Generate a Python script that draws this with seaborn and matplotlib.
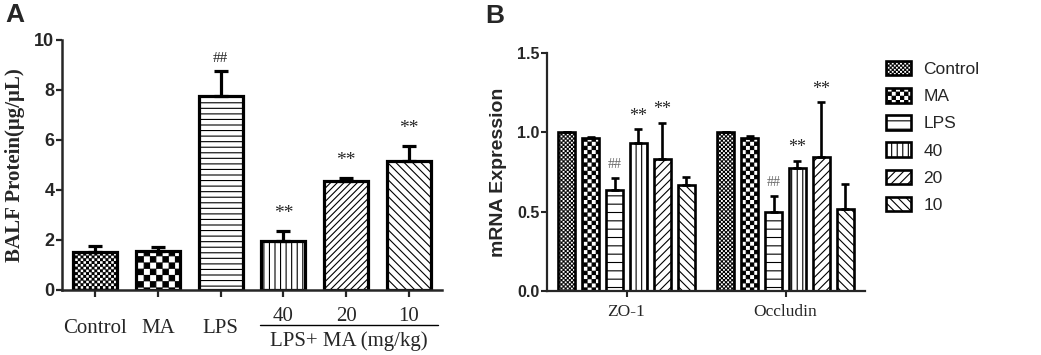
import warnings
import numpy as np
import pandas as pd
import matplotlib
matplotlib.use("Agg")
import matplotlib.pyplot as plt
import matplotlib.hatch as mhatch
from matplotlib.path import Path
from matplotlib.patches import Patch
from matplotlib.transforms import ScaledTranslation, blended_transform_factory
import seaborn as sns

warnings.filterwarnings("ignore")

# ---- data ----
groups = ["Control", "MA", "LPS", "40", "20", "10"]
protein = [1.52, 1.55, 7.78, 1.97, 4.38, 5.15]
protein_sem = [0.25, 0.17, 0.98, 0.40, 0.12, 0.61]
protein_sig = ["", "", "##", "**", "**", "**"]

genes = ["ZO-1", "Occludin"]
treatments = ["Control", "MA", "LPS", "40", "20", "10"]
zo1 = [1.00, 0.96, 0.636, 0.929, 0.829, 0.665]
zo1_sem = [0.0, 0.01, 0.073, 0.088, 0.23, 0.055]
occludin = [1.00, 0.965, 0.497, 0.776, 0.845, 0.514]
occludin_sem = [0.0, 0.01, 0.103, 0.044, 0.342, 0.159]
zo1_sig = ["", "", "##", "**", "**", ""]
occludin_sig = ["", "", "##", "**", "**", ""]


# checkerboard hatch ('c' repeated sets how fine it is)
class CheckerHatch(mhatch.HatchPatternBase):
    def __init__(self, hatch, density):
        self.n = hatch.count("c") * 4
        self.num_vertices = (self.n * self.n // 2) * 5

    def set_vertices_and_codes(self, vertices, codes):
        s = 1.0 / self.n
        d = 0.0045
        sq = []
        for i in range(self.n):
            for j in range(self.n):
                if (i + j) % 2 == 0:
                    x, y = i * s, j * s
                    sq.append([[x + d, y + d], [x + s - d, y + d], [x + s - d, y + s - d],
                               [x + d, y + s - d], [x + d, y + d]])
        vertices[:] = np.array(sq).reshape(-1, 2)
        codes[:] = np.tile([Path.MOVETO, Path.LINETO, Path.LINETO, Path.LINETO, Path.CLOSEPOLY], len(sq))


mhatch._hatch_types.append(CheckerHatch)

hatch_a = ["c" * 9, "cccc", "---", "|||", "/////", "\\\\\\\\"]
hatch_b = ["c" * 12, "c" * 6, "--", "|||", "////", "\\\\\\\\"]

sns.set_style("ticks")
plt.rcParams["font.family"] = ["Liberation Sans", "DejaVu Sans"]
plt.rcParams["hatch.linewidth"] = 0.8
plt.rcParams["hatch.color"] = "black"
SERIF = ["Liberation Serif", "DejaVu Serif"]

fig = plt.figure(figsize=(10.41, 3.55), dpi=100)
ax1 = fig.add_axes([62 / 1041, 1 - 290 / 355, 380 / 1041, 250 / 355])
ax2 = fig.add_axes([547 / 1041, 1 - 291 / 355, 318 / 1041, 238.3 / 355])

# ---- panel A ----
df_a = pd.DataFrame({"group": groups, "protein": protein})
sns.barplot(data=df_a, x="group", y="protein", order=groups, color="white",
            edgecolor="black", linewidth=2.3, width=0.7, errorbar=None, ax=ax1)
bars = sorted(ax1.patches, key=lambda p: p.get_x())
for b, h in zip(bars, hatch_a):
    b.set_hatch(h)
xs = [b.get_x() + b.get_width() / 2 for b in bars]
ax1.errorbar(xs, protein, yerr=[np.zeros(6), protein_sem], fmt="none", ecolor="black",
             elinewidth=2.3, capsize=5, capthick=2.3)
for x, v, e, s in zip(xs, protein, protein_sem, protein_sig):
    if s:
        ax1.text(x, v + e + (0.35 if s == "**" else 0.25), s, ha="center", va="bottom",
                 family=SERIF, size=14 if s == "**" else 11)

ax1.set_xlim(-0.53, 5.53)
ax1.set_ylim(0, 10)
ax1.set_yticks(range(0, 11, 2))
ax1.set_xticks(range(6))
ax1.set_xticklabels(groups, family=SERIF, size=15)
ax1.tick_params(axis="y", labelsize=13, width=1.6, length=4, pad=1.5)
ax1.tick_params(axis="x", width=1.6, length=5, pad=7)
for lbl in ax1.get_yticklabels():
    lbl.set_fontweight("bold")
for lbl in ax1.get_xticklabels()[:3]:
    lbl.set_transform(lbl.get_transform() + ScaledTranslation(0, -8.6 / 72, fig.dpi_scale_trans))
ax1.set_xlabel("")
ax1.set_ylabel("BALF Protein(μg/μL)", family=SERIF, weight="bold", size=15)
ax1.yaxis.set_label_coords(-0.097, 0.5)
sns.despine(ax=ax1)
for sp in ["left", "bottom"]:
    ax1.spines[sp].set_linewidth(1.8)

tr = blended_transform_factory(ax1.transData, ax1.transAxes)
ax1.plot([2.63, 5.46], [-0.14, -0.14], color="black", lw=1.0, transform=tr, clip_on=False)
ax1.text(4.05, -0.205, "LPS+ MA (mg/kg)", transform=tr, ha="center", va="center",
         family=SERIF, size=15)

# ---- panel B ----
df_b = pd.DataFrame({"gene": np.repeat(genes, 6), "treatment": treatments * 2,
                     "expr": zo1 + occludin})
sns.barplot(data=df_b, x="gene", y="expr", hue="treatment", order=genes,
            hue_order=treatments, palette=["white"] * 6, edgecolor="black",
            linewidth=1.9, width=0.9, gap=0.29, errorbar=None, legend=False, ax=ax2)
bars = sorted(ax2.patches, key=lambda p: p.get_x())
for b, h in zip(bars, hatch_b * 2):
    b.set_hatch(h)
xs = [b.get_x() + b.get_width() / 2 for b in bars]
vals = zo1 + occludin
errs = zo1_sem + occludin_sem
ax2.errorbar(xs, vals, yerr=[np.zeros(12), errs], fmt="none", ecolor="black",
             elinewidth=1.9, capsize=3, capthick=1.9)
for x, v, e, s in zip(xs, vals, errs, zo1_sig + occludin_sig):
    if s == "**":
        ax2.text(x, v + e + 0.03, s, ha="center", va="bottom", family=SERIF, size=13)
    elif s == "##":
        ax2.text(x, v + e + 0.045, s, ha="center", va="bottom", family=SERIF,
                 size=10, color="#666666")

ax2.set_xlim(-0.5, 1.5)
ax2.set_ylim(0, 1.5)
ax2.set_yticks([0, 0.5, 1.0, 1.5])
ax2.set_yticklabels(["0.0", "0.5", "1.0", "1.5"])
ax2.set_xticks([0, 1])
ax2.set_xticklabels(genes, family=SERIF, size=12.5)
ax2.tick_params(axis="y", labelsize=11.5, width=1.5, length=4, pad=1.5)
ax2.tick_params(axis="x", width=1.5, length=4, pad=5)
for lbl in ax2.get_yticklabels():
    lbl.set_fontweight("bold")
ax2.set_xlabel("")
ax2.set_ylabel("mRNA Expression", weight="bold", size=14)
ax2.yaxis.set_label_coords(-0.126, 0.5)
sns.despine(ax=ax2)
for sp in ["left", "bottom"]:
    ax2.spines[sp].set_linewidth(1.6)

handles = [Patch(facecolor="white", edgecolor="black", hatch=h, linewidth=1.9, label=t)
           for h, t in zip(hatch_b, treatments)]
fig.legend(handles=handles, loc="upper left", bbox_to_anchor=(886 / 1041, 1 - 61 / 355),
           frameon=False, fontsize=12.5, handlelength=1.45, handleheight=0.9,
           labelspacing=0.63, handletextpad=0.7, borderpad=0, borderaxespad=0)

fig.text(5 / 1041, 1 - 15 / 355, "A", weight="bold", size=19, va="center")
fig.text(485 / 1041, 1 - 16 / 355, "B", weight="bold", size=19, va="center")

fig.savefig("out.png", dpi=100, facecolor="white")
